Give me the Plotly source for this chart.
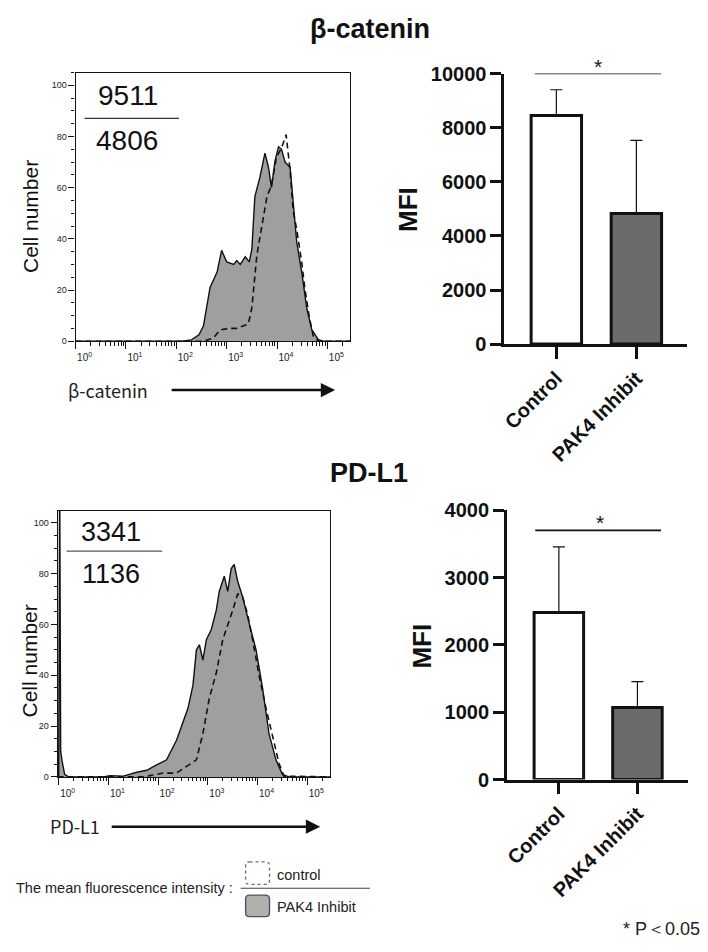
import plotly.graph_objects as go

W, H = 708, 952
def px(x): return x / W
def py(y): return 1 - y / H

# ---------------- data ----------------
# histograms: x = log10(fluorescence intensity), y = cell number
bcat_inh_log = [0.0, 2.1, 2.3, 2.45, 2.54, 2.67, 2.81, 2.90, 3.0, 3.14, 3.20, 3.27, 3.37, 3.45, 3.50, 3.56,
                3.66, 3.76, 3.83, 3.89, 3.96, 4.03, 4.09, 4.16, 4.26, 4.32, 4.39, 4.49, 4.59, 4.69, 4.82, 4.92, 5.45]
bcat_inh_cnt = [0, 0, 0.5, 2.5, 6, 21, 27, 35.5, 31, 30, 31.5, 30, 33, 31, 36, 56.5,
                64, 73.5, 68, 60, 70.5, 76, 75, 70, 68, 54, 39, 27, 13, 4.5, 0.6, 0, 0]
bcat_ctl_log = [0.0, 2.54, 2.74, 2.87, 3.04, 3.20, 3.43, 3.50, 3.60, 3.70, 3.80, 3.89, 3.99, 4.09, 4.18,
                4.26, 4.32, 4.39, 4.49, 4.55, 4.64, 4.72, 4.82, 5.45]
bcat_ctl_cnt = [0, 0, 1.3, 4.4, 5, 5, 6.7, 13, 33.7, 46, 56.5, 61, 72, 75.6, 80.7,
                66.7, 51, 43.8, 31, 21, 9.5, 2, 0, 0]

pdl1_inh_log = [-0.02, 0.0, 0.02, 0.04, 0.07, 0.12, 0.2, 0.9, 1.03, 1.3, 1.57, 1.77, 1.97, 2.17, 2.37, 2.5,
                2.6, 2.7, 2.77, 2.83, 2.9, 2.97, 3.07, 3.17, 3.23, 3.33, 3.4, 3.47, 3.53, 3.6, 3.7, 3.83,
                3.97, 4.1, 4.23, 4.37, 4.5, 4.63, 5.46]
pdl1_inh_cnt = [0, 0, 120, 10, 6, 1, 0, 0, 0.5, 0.3, 1.8, 2.6, 4.7, 6.7, 14.4, 22,
                27, 36, 50, 52, 46, 54, 58, 65.6, 73, 79, 73, 82, 83.6, 77, 70.8, 60.5,
                50, 35, 17, 6.7, 1, 0, 0]
pdl1_ctl_log = [-0.02, 1.77, 1.83, 2.1, 2.37, 2.53, 2.63, 2.77, 2.9, 3.03, 3.17, 3.3, 3.5, 3.6, 3.7,
                3.8, 3.9, 4.03, 4.17, 4.3, 4.43, 4.53, 5.46]
pdl1_ctl_cnt = [0, 0, 0.5, 1.5, 1.5, 3.5, 4.7, 6.7, 17, 31, 41, 54, 65.6, 72, 70.8,
                64, 54, 40, 27, 15.6, 5.4, 0.3, 0]

hist_mfi_bcat = ["9511", "4806"]
hist_mfi_pdl1 = ["3341", "1136"]

groups = ["Control", "PAK4 Inhibit"]
bcat_mfi_mean = [8450, 4830]
bcat_mfi_err = [950, 2700]
pdl1_mfi_mean = [2480, 1070]
pdl1_mfi_err = [975, 385]

decade_vals = [1, 10, 100, 1000, 10000, 100000]
decade_text = ["10<sup>0</sup>", "10<sup>1</sup>", "10<sup>2</sup>", "10<sup>3</sup>", "10<sup>4</sup>", "10<sup>5</sup>"]
minor_vals = [k * 10 ** d for d in range(0, 6) for k in range(2, 10) if k * 10 ** d < 3e5]

FONT = "Liberation Sans"
BLACK = "#111111"

fig = go.Figure()

def hist_traces(xa, ya, inh_log, inh_cnt, ctl_log, ctl_cnt):
    fig.add_trace(go.Scatter(x=[10 ** v for v in inh_log], y=inh_cnt, mode="lines", fill="tozeroy",
                             fillcolor="#9f9f9f", line=dict(color=BLACK, width=1.4),
                             xaxis=xa, yaxis=ya, showlegend=False, hoverinfo="skip"))
    fig.add_trace(go.Scatter(x=[10 ** v for v in ctl_log], y=ctl_cnt, mode="lines",
                             line=dict(color=BLACK, width=1.6, dash="6px,4px"),
                             xaxis=xa, yaxis=ya, showlegend=False, hoverinfo="skip"))

hist_traces("x", "y", bcat_inh_log, bcat_inh_cnt, bcat_ctl_log, bcat_ctl_cnt)
hist_traces("x2", "y2", pdl1_inh_log, pdl1_inh_cnt, pdl1_ctl_log, pdl1_ctl_cnt)

def bar_traces(xa, ya, mean, err):
    fig.add_trace(go.Bar(x=groups, y=mean, width=0.63,
                         marker=dict(color=["#ffffff", "#6b6b6b"], line=dict(color=BLACK, width=3)),
                         error_y=dict(type="data", array=err, arrayminus=[0, 0], symmetric=False,
                                      color=BLACK, thickness=1.2, width=6),
                         xaxis=xa, yaxis=ya, showlegend=False, hoverinfo="skip"))

bar_traces("x3", "y3", bcat_mfi_mean, bcat_mfi_err)
bar_traces("x4", "y4", pdl1_mfi_mean, pdl1_mfi_err)

hist_x = dict(type="log", tickvals=decade_vals, ticktext=decade_text, ticks="outside", ticklen=7,
              tickwidth=1.2, tickcolor=BLACK, showline=True, linecolor=BLACK, linewidth=1.2, mirror=True,
              showgrid=False, zeroline=False, tickfont=dict(family=FONT, size=10, color="#222"),
              ticklabelshift=9,
              minor=dict(tickvals=minor_vals, ticks="outside", ticklen=3.5, tickwidth=1, tickcolor=BLACK))
hist_y = dict(tickvals=[0, 20, 40, 60, 80, 100], ticks="outside", ticklen=6, tickwidth=1.2, tickcolor=BLACK,
              showline=True, linecolor=BLACK, linewidth=1.2, mirror=True, showgrid=False, zeroline=False,
              tickfont=dict(family=FONT, size=9, color="#222"),
              minor=dict(dtick=5, ticks="outside", ticklen=3, tickwidth=1, tickcolor=BLACK))

bar_x = dict(type="category", ticks="outside", ticklen=12, tickwidth=2.5, tickcolor=BLACK, showline=True,
             linecolor=BLACK, linewidth=2.5, showgrid=False, zeroline=False, tickangle=-45,
             tickfont=dict(family=FONT, size=20, color=BLACK, weight="bold"))
bar_y = dict(ticks="outside", ticklen=11, tickwidth=2.5, tickcolor=BLACK, showline=True, linecolor=BLACK,
             linewidth=2.5, showgrid=False, zeroline=False, tickformat="d",
             tickfont=dict(family=FONT, size=20, color=BLACK, weight="bold"))

fig.update_layout(
    width=W, height=H, margin=dict(l=0, r=0, t=0, b=0),
    paper_bgcolor="white", plot_bgcolor="white", showlegend=False,
    xaxis=dict(hist_x, domain=[px(72), px(348)], range=[0, 5.45], anchor="y"),
    yaxis=dict(hist_y, domain=[py(338), py(63)], range=[0, 105], anchor="x"),
    xaxis2=dict(hist_x, domain=[px(54), px(328)], range=[-0.02, 5.46], anchor="y2"),
    yaxis2=dict(hist_y, domain=[py(784), py(511.7)], range=[0, 104.7], anchor="x2"),
    xaxis3=dict(bar_x, domain=[px(503), px(687)], range=[-0.652, 1.634], anchor="y3"),
    yaxis3=dict(bar_y, domain=[py(341), py(64)], range=[0, 10000], dtick=2000, anchor="x3"),
    xaxis4=dict(bar_x, domain=[px(505.7), px(688)], range=[-0.662, 1.645], anchor="y4"),
    yaxis4=dict(bar_y, domain=[py(786.7), py(511)], range=[0, 4000], dtick=1000, anchor="x4"),
)

ann = []
shapes = []

def text(x, y, s, size, bold=False, xanchor="center", yanchor="middle", angle=0, family=FONT, color=BLACK):
    f = dict(family=family, size=size, color=color)
    if bold:
        f["weight"] = "bold"
    ann.append(dict(x=px(x), y=py(y), xref="paper", yref="paper", text=s, showarrow=False,
                    xanchor=xanchor, yanchor=yanchor, textangle=angle, font=f))

# titles
text(368, 18, "β-catenin", 27, bold=True)
text(367, 473, "PD-L1", 27, bold=True)

# histogram y labels
text(26, 210, "Cell number", 21, angle=-90)
text(26, 665, "Cell number", 21, angle=-90)

# MFI numbers on histograms
text(125, 87, hist_mfi_bcat[0], 28)
text(124, 133, hist_mfi_bcat[1], 28)
shapes.append(dict(type="line", xref="paper", yref="paper", x0=px(81), x1=px(176), y0=py(110), y1=py(110),
                   line=dict(color="#333", width=1.2)))
text(108, 533, hist_mfi_pdl1[0], 27)
text(108, 576, hist_mfi_pdl1[1], 27)
shapes.append(dict(type="line", xref="paper", yref="paper", x0=px(63), x1=px(159), y0=py(553), y1=py(553),
                   line=dict(color="#555", width=1.2)))

# histogram x labels with arrows
text(62, 388, "β-catenin", 18, xanchor="left", family="Noto Sans CJK JP", color="#222")
text(44, 834, "PD-L1", 18, xanchor="left", family="Noto Sans CJK JP", color="#222")
for (x0, x1, y) in [(168, 333, 388), (108, 318, 835)]:
    ann.append(dict(x=px(x1), y=py(y), ax=x0 - x1, ay=0, xref="paper", yref="paper",
                    axref="pixel", ayref="pixel", text="", showarrow=True, arrowhead=2,
                    arrowsize=1.1, arrowwidth=2.6, arrowcolor=BLACK))

# MFI axis titles
text(407, 203, "MFI", 26, bold=True, angle=-90)
text(420, 650, "MFI", 26, bold=True, angle=-90)

# significance
shapes.append(dict(type="line", xref="x3", yref="y3", x0=-0.27, x1=1.31, y0=10000, y1=10000,
                   line=dict(color=BLACK, width=1.6)))
ann.append(dict(x=0.52, y=10000, xref="x3", yref="y3", text="*", showarrow=False, yanchor="bottom",
                yshift=-6, font=dict(family=FONT, size=21, color=BLACK)))
shapes.append(dict(type="line", xref="x4", yref="y4", x0=-0.30, x1=1.30, y0=3700, y1=3700,
                   line=dict(color=BLACK, width=1.6)))
ann.append(dict(x=0.52, y=3700, xref="x4", yref="y4", text="*", showarrow=False, yanchor="bottom",
                yshift=-6, font=dict(family=FONT, size=21, color=BLACK)))

# legend at bottom
text(10, 898, "The mean fluorescence intensity :", 14.5, xanchor="left", color="#222")
shapes.append(dict(type="line", xref="paper", yref="paper", x0=px(238), x1=px(368), y0=py(898), y1=py(898),
                   line=dict(color="#444", width=1.2)))

def rounded(x0, y0, x1, y1, r=4):
    X0, X1 = px(x0), px(x1)
    Y0, Y1 = py(y0), py(y1)
    rx, ry = r / W, r / H
    return (f"M {X0+rx},{Y0} L {X1-rx},{Y0} Q {X1},{Y0} {X1},{Y0-ry} L {X1},{Y1+ry} "
            f"Q {X1},{Y1} {X1-rx},{Y1} L {X0+rx},{Y1} Q {X0},{Y1} {X0},{Y1+ry} "
            f"L {X0},{Y0-ry} Q {X0},{Y0} {X0+rx},{Y0} Z")

shapes.append(dict(type="path", xref="paper", yref="paper", path=rounded(243, 871, 267, 894),
                   fillcolor="white", line=dict(color="#5b6a8c", width=1.3, dash="dot")))
shapes.append(dict(type="path", xref="paper", yref="paper", path=rounded(243, 905, 267, 927),
                   fillcolor="#b3afac", line=dict(color="#4a5468", width=1.4)))
text(273, 884, "control", 14.5, xanchor="left", color="#222")
text(273, 917, "PAK4 Inhibit", 14.5, xanchor="left", color="#222")

text(702, 940, "* P＜0.05", 18, xanchor="right", color="#222")

fig.update_layout(annotations=ann, shapes=shapes)
fig.write_html("out.html", config={"displayModeBar": False},
               post_script="document.body.style.margin='0';document.body.style.overflow='hidden';")
